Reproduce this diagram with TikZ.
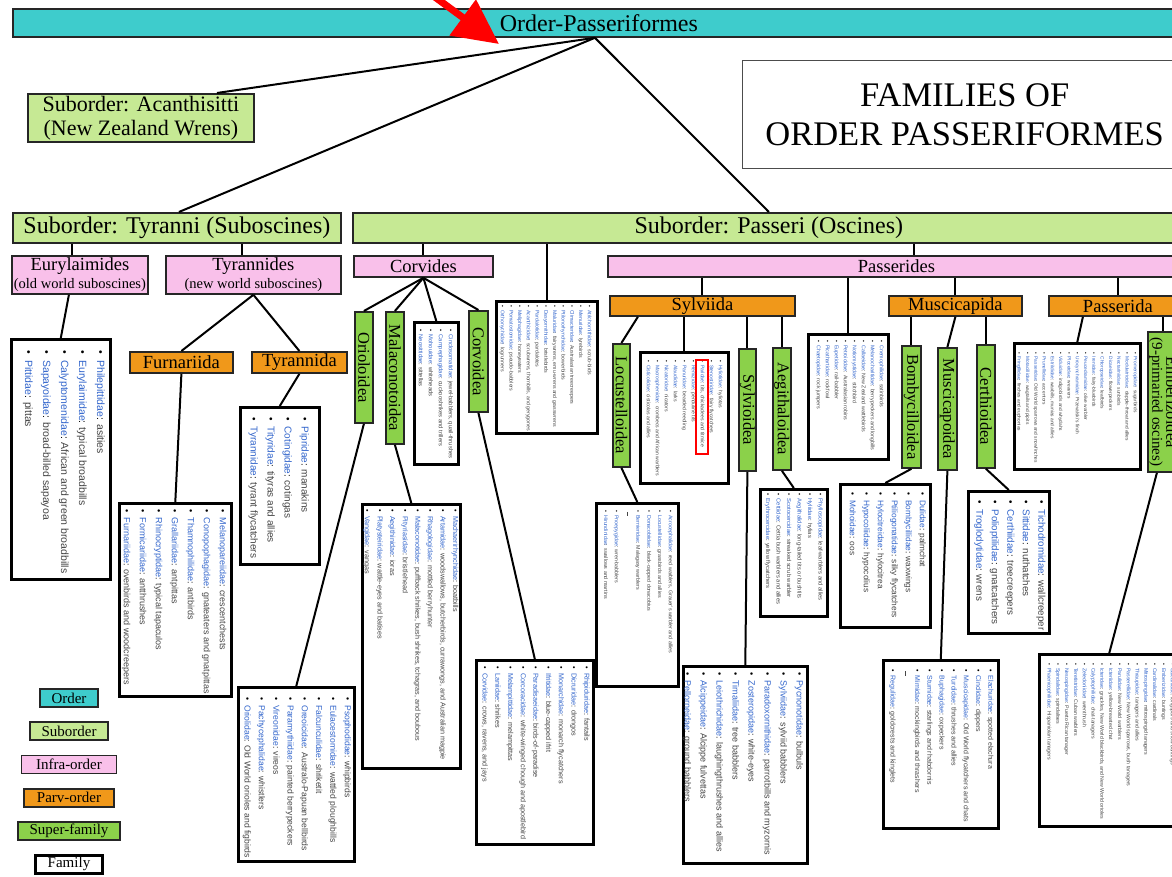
\documentclass[tikz,border=0pt]{standalone}
\usepackage{graphicx}
\usepackage{fontspec}
\setmainfont{Liberation Serif}
\setsansfont{Liberation Sans}
\usepackage{tikz}
\usetikzlibrary{positioning,arrows.meta}
\definecolor{ordcyan}{RGB}{62,204,204}
\definecolor{subgreen}{RGB}{198,233,148}
\definecolor{infpink}{RGB}{249,192,234}
\definecolor{parvorange}{RGB}{240,152,26}
\definecolor{supgreen}{RGB}{139,209,74}
\definecolor{famblue}{RGB}{51,102,204}
\definecolor{famgray}{RGB}{70,70,70}
\newcommand{\fitem}[2]{\hbox{\textbullet\hspace{.6em}\textcolor{famblue}{#1}: \textcolor{famgray}{#2}}}
\newcommand{\fgap}{\hbox{\hspace{.3em}\textcolor{famgray}{\rule[.3em]{.7em}{.3pt}}}}
\newcommand{\flist}[3]{\rotatebox{-90}{\vbox{\fontsize{#1}{#2}\selectfont#3}}}
\newcommand{\vtext}[1]{\rotatebox{-90}{#1}}

\begin{document}
\begin{tikzpicture}[x=1pt,y=-1pt,inner sep=0pt,node distance=13.4pt]
\tikzstyle{ordbox}=[rectangle, draw=black!85, line width=1.8pt, fill=ordcyan, anchor=north west, font=\fontsize{24}{26}\selectfont]
\tikzstyle{subbox}=[rectangle, draw=black!85, line width=1.8pt, fill=subgreen, anchor=north west, align=center, font=\fontsize{24}{24}\selectfont]
\tikzstyle{infbox}=[rectangle, draw=black!85, line width=1.8pt, fill=infpink, anchor=north west, align=center, font=\fontsize{18.5}{18}\selectfont]
\tikzstyle{parvbox}=[rectangle, draw=black!85, line width=1.8pt, fill=parvorange, anchor=north west, font=\fontsize{18.5}{20}\selectfont]
\tikzstyle{supbox}=[rectangle, draw=black!85, line width=1.8pt, fill=supgreen, anchor=north west, font=\fontsize{16.5}{15}\selectfont]
\tikzstyle{fambox}=[rectangle, draw=black, line width=2.6pt, fill=white, anchor=north west]
\tikzstyle{famtext}=[anchor=north east, font=\sffamily]
\tikzstyle{titlebox}=[rectangle, draw=black!70, line width=1.3pt, anchor=north west, align=center, font=\fontsize{34.5}{39}\selectfont]
\tikzstyle{legend}=[anchor=center, minimum height=18, font=\fontsize{15}{15}\selectfont]
\tikzstyle{connect}=[line width=2pt, black]
\useasboundingbox (0,0) rectangle (1172,877);
\node[ordbox, minimum width=1172, minimum height=28] (ordr) at (12,8) {Order-Passeriformes};
\node[subbox, minimum width=226, minimum height=48, font=\fontsize{22}{24}\selectfont] (acan) at (27,93) {Suborder: Acanthisitti\\(New Zealand Wrens)};
\node[titlebox, minimum width=444, minimum height=108] (titl) at (742,60) {FAMILIES OF\\ORDER PASSERIFORMES};
\node[subbox, minimum width=328, minimum height=30] (tyrn) at (12,212) {Suborder: Tyranni (Suboscines)};
\node[subbox, minimum width=832, minimum height=30] (psri) at (352,212) {Suborder: Passeri (Oscines)};
\node[infbox, minimum width=136, minimum height=38] (eury) at (11,255) {Eurylaimides\\{\fontsize{14.5}{15}\selectfont(old world suboscines)}};
\node[infbox, minimum width=175, minimum height=38] (tyrs) at (165,255) {Tyrannides\\{\fontsize{14.5}{15}\selectfont(new world suboscines)}};
\node[infbox, minimum width=139, minimum height=21] (crvd) at (353,255) {Corvides};
\node[infbox, minimum width=577, minimum height=21] (psds) at (607,255) {Passerides};
\node[parvbox, minimum width=103, minimum height=21] (furn) at (129,351) {Furnariida};
\node[parvbox, minimum width=95, minimum height=21] (tyrd) at (251,351) {Tyrannida};
\node[parvbox, minimum width=185, minimum height=20] (sylv) at (609,295) {Sylviida};
\node[parvbox, minimum width=133, minimum height=20] (musc) at (888,295) {Muscicapida};
\node[parvbox, minimum width=138, minimum height=20] (psda) at (1048,295) {Passerida};
\node[supbox, minimum width=18, minimum height=111] (oriol) at (354,311) {\vtext{Orioloidea}};
\node[supbox, minimum width=18, minimum height=132] (malac) at (385,311) {\vtext{Malaconotoidea}};
\node[supbox, minimum width=19, minimum height=101] (corvo) at (468,310) {\vtext{Corvoidea}};
\node[supbox, minimum width=17, minimum height=123] (locus) at (612,343) {\vtext{Locustelloidea}};
\node[supbox, minimum width=17, minimum height=122] (sylvo) at (738,348) {\vtext{Sylvioidea}};
\node[supbox, minimum width=18, minimum height=122] (aegit) at (772,347) {\vtext{Aegithaloidea}};
\node[supbox, minimum width=19, minimum height=122] (bomby) at (901,345) {\vtext{Bombycilloidea}};
\node[supbox, minimum width=19, minimum height=122] (muspo) at (937,347) {\vtext{Muscicapoidea}};
\node[supbox, minimum width=18, minimum height=123] (certh) at (976,344) {\vtext{Certhioidea}};
\node[supbox, minimum width=30, minimum height=140] (ember) at (1147,331) {\vtext{\begin{tabular}{@{}c@{}}Emberizoidea\\[-1pt]{\fontsize{15}{15}\selectfont(9-primaried oscines)}\end{tabular}}};
\node[fambox, minimum width=99, minimum height=240] (fEury) at (10,338) {};
\node[famtext, inner xsep=6.6, inner ysep=12] (tEury) at (fEury.north east) {\flist{10.5}{18}{\fitem{Philepittidae}{asities}
 \fitem{Eurylaimidae}{typical broadbills}
 \fitem{Calyptomenidae}{African and green broadbills}
 \fitem{Sapayoidae}{broad-billed sapayoa}
 \fitem{Pittidae}{pittas}}};
\node[fambox, minimum width=112, minimum height=193] (fFurn) at (118,502) {};
\node[famtext, inner xsep=6, inner ysep=7] (tFurn) at (fFurn.north east) {\flist{9}{16}{\fitem{Melanopareiidae}{crescentchests}
 \fitem{Conopophagidae}{gnateaters and gnatpittas}
 \fitem{Thamnophilidae}{antbirds}
 \fitem{Grallariidae}{antpittas}
 \fitem{Rhinocryptidae}{typical tapaculos}
 \fitem{Formicariidae}{antthrushes}
 \fitem{Furnariidae}{ovenbirds and woodcreepers}}};
\node[fambox, minimum width=79, minimum height=157] (fTyran) at (239,406) {};
\node[famtext, inner xsep=11.5, inner ysep=11] (tTyran) at (fTyran.north east) {\flist{10}{17}{\fitem{Pipridae}{manakins}
 \fitem{Cotingidae}{cotingas}
 \fitem{Tityridae}{tityras and allies}
 \fitem{Tyrannidae}{tyrant flycatchers}}};
\node[fambox, minimum width=116, minimum height=174] (fOriol) at (237,686) {};
\node[famtext, inner xsep=4.4, inner ysep=11] (tOriol) at (fOriol.north east) {\flist{8.6}{14.3}{\fitem{Psophodidae}{whipbirds}
 \fitem{Eulacestomidae}{wattled ploughbills}
 \fitem{Falcunculidae}{shriketit}
 \fitem{Oreoicidae}{Australo-Papuan bellbirds}
 \fitem{Paramythiidae}{painted berrypeckers}
 \fitem{Vireonidae}{vireos}
 \fitem{Pachycephalidae}{whistlers}
 \fitem{Oriolidae}{Old World orioles and figbirds}}};
\node[fambox, minimum width=98, minimum height=264] (fMalac) at (361,503) {};
\node[famtext, inner xsep=3, inner ysep=6] (tMalac) at (fMalac.north east) {\flist{7.2}{12.6}{\fitem{Machaerirhynchidae}{boatbills}
 \fitem{Artamidae}{woodswallows, butcherbirds, currawongs, and Australian magpie}
 \fitem{Rhagologidae}{mottled berryhunter}
 \fitem{Malaconotidae}{puffback shrikes, bush shrikes, tchagras, and boubous}
 \fitem{Pityriasidae}{bristlehead}
 \fitem{Aegithinidae}{ioras}
 \fitem{Platysteiridae}{wattle-eyes and batises}
 \fitem{Vangidae}{vangas}}};
\node[fambox, minimum width=44, minimum height=142] (fCincl) at (413,321) {};
\node[famtext, inner xsep=6.4, inner ysep=8] (tCincl) at (fCincl.north east) {\flist{5.8}{10}{\fitem{Cinclosomatidae}{jewel-babblers, quail-thrushes}
 \fitem{Campephagidae}{cuckooshrikes and trillers}
 \fitem{Mohouidae}{whiteheads}
 \fitem{Neosittidae}{sittellas}}};
\node[fambox, minimum width=117, minimum height=184] (fCorv) at (475,659) {};
\node[famtext, inner xsep=4.9, inner ysep=7] (tCorv) at (fCorv.north east) {\flist{7.2}{12.7}{\fitem{Rhipiduridae}{fantails}
 \fitem{Dicruridae}{drongos}
 \fitem{Monarchidae}{monarch flycatchers}
 \fitem{Ifritidae}{blue-capped ifrit}
 \fitem{Paradisaeidae}{birds-of-paradise}
 \fitem{Corcoracidae}{white-winged chough and apostlebird}
 \fitem{Melampittidae}{melampittas}
 \fitem{Laniidae}{shrikes}
 \fitem{Corvidae}{crows, ravens, and jays}}};
\node[fambox, minimum width=101, minimum height=132] (fMenur) at (495,300) {};
\node[famtext, inner xsep=6.8, inner ysep=5] (tMenur) at (fMenur.north east) {\flist{5.2}{8.7}{\fitem{Atrichornithidae}{scrub-birds}
 \fitem{Menuridae}{lyrebirds}
 \fitem{Climacteridae}{Australasian treecreepers}
 \fitem{Ptilonorhynchidae}{bowerbirds}
 \fitem{Maluridae}{fairywrens, emu-wrens and grasswrens}
 \fitem{Dasyornithidae}{bristlebirds}
 \fitem{Pardalotidae}{pardalotes}
 \fitem{Acanthizidae}{scrubwrens, thornbills, and gerygones}
 \fitem{Meliphagidae}{honeyeaters}
 \fitem{Pomatostomidae}{pseudo-babblers}
 \fitem{Orthonychidae}{logrunners}}};
\node[fambox, minimum width=88, minimum height=131] (fSylvi) at (639,351) {};
\node[famtext, inner xsep=6.9, inner ysep=9] (tSylvi) at (fSylvi.north east) {\flist{5.1}{9}{\fitem{Hyliotidae}{hyliotas}
 \fitem{Stenostiridae}{fairy flycatchers}
 \fitem{Paridae}{tits, chickadees and titmice}
 \fitem{Remizidae}{penduline tits}
 \fitem{Panuridae}{bearded reedling}
 \fitem{Alaudidae}{larks}
 \fitem{Nicatoridae}{nicators}
 \fitem{Macrosphenidae}{crombecs and African warblers}
 \fitem{Cisticolidae}{cisticolas and allies}}};
\node[draw=red, line width=1.6pt, minimum width=12, minimum height=94, anchor=north west] (hlParid) at (695,359) {};
\node[fambox, minimum width=82, minimum height=183] (fLocus) at (595,502) {};
\node[famtext, inner xsep=6.7, inner ysep=8] (tLocus) at (fLocus.north east) {\flist{5.3}{10.8}{\fitem{Acrocephalidae}{reed warblers, Grauer's warbler and allies}
 \fitem{Locustellidae}{grassbirds and allies}
 \fitem{Donacobiidae}{black-capped donacobius}
 \fitem{Bernieridae}{Malagasy warblers}
 \fgap
 \fitem{Pnoepygidae}{wren-babblers}
 \fitem{Hirundinidae}{swallows and martins}}};
\node[fambox, minimum width=67, minimum height=127] (fAegi) at (759,488) {};
\node[famtext, inner xsep=5.6, inner ysep=5] (tAegi) at (fAegi.north east) {\flist{5.8}{10.5}{\fitem{Phylloscopidae}{leaf-warblers and allies}
 \fitem{Hyliidae}{hylias}
 \fitem{Aegithalidae}{long-tailed tits or bushtits}
 \fitem{Scotocercidae}{streaked scrub warbler}
 \fitem{Cettiidae}{Cettia bush warblers and allies}
 \fitem{Erythrocercidae}{yellow flycatchers}}};
\node[fambox, minimum width=124, minimum height=197] (fSylvo) at (682,665) {};
\node[famtext, inner xsep=5.2, inner ysep=7] (tSylvo) at (fSylvo.north east) {\flist{9}{16}{\fitem{Pycnonotidae}{bulbuls}
 \fitem{Sylviidae}{sylviid babblers}
 \fitem{Paradoxornithidae}{parrotbills and myzornis}
 \fitem{Zosteropidae}{white-eyes}
 \fitem{Timaliidae}{tree babblers}
 \fitem{Leiothrichidae}{laughingthrushes and allies}
 \fitem{Alcippeidae}{Alcippe fulvettas}
 \fitem{Pellorneidae}{ground babblers}}};
\node[fambox, minimum width=80, minimum height=125] (fPassd) at (807,333) {};
\node[famtext, inner xsep=5.8, inner ysep=7] (tPassd) at (fPassd.north east) {\flist{5.3}{9}{\fitem{Cnemophilidae}{satinbirds}
 \fitem{Melanocharitidae}{berrypeckers and longbills}
 \fitem{Callaeidae}{New Zealand wattlebirds}
 \fitem{Notiomystidae}{stitchbird}
 \fitem{Petroicidae}{Australasian robins}
 \fitem{Eupetidae}{rail-babbler}
 \fitem{Picathartidae}{rockfowl}
 \fitem{Chaetopidae}{rock jumpers}}};
\node[fambox, minimum width=90, minimum height=143] (fBomby) at (839,483) {};
\node[famtext, inner xsep=5.5, inner ysep=9] (tBomby) at (fBomby.north east) {\flist{8.3}{14}{\fitem{Dulidae}{palmchat}
 \fitem{Bombycillidae}{waxwings}
 \fitem{Ptiliogonatidae}{silky flycatchers}
 \fitem{Hylocitreidae}{hylocitrea}
 \fitem{Hypocoliidae}{hypocolius}
 \fitem{Mohoidae}{oos}}};
\node[fambox, minimum width=115, minimum height=168] (fMusci) at (882,659) {};
\node[famtext, inner xsep=6, inner ysep=10] (tMusci) at (fMusci.north east) {\flist{7}{12.2}{\fitem{Elachuridae}{spotted elachura}
 \fitem{Cinclidae}{dippers}
 \fitem{Muscicapidae}{Old World flycatchers and chats}
 \fitem{Turdidae}{thrushes and allies}
 \fitem{Buphagidae}{oxpeckers}
 \fitem{Sturnidae}{starlings and rhabdornis}
 \fitem{Mimidae}{mockingbirds and thrashers}
 \fgap
 \fitem{Regulidae}{goldcrests and kinglets}}};
\node[fambox, minimum width=81, minimum height=142] (fCerth) at (967,490) {};
\node[famtext, inner xsep=4.9, inner ysep=10] (tCerth) at (fCerth.north east) {\flist{9.8}{15.5}{\fitem{Tichodromidae}{wallcreeper}
 \fitem{Sittidae}{nuthatches}
 \fitem{Certhiidae}{treecreepers}
 \fitem{Polioptilidae}{gnatcatchers}
 \fitem{Troglodytidae}{wrens}}};
\node[fambox, minimum width=126, minimum height=126] (fPassa) at (1013,342) {};
\node[famtext, inner xsep=4, inner ysep=10] (tPassa) at (fPassa.north east) {\flist{4.8}{8.3}{\fitem{Promeropidae}{sugarbirds}
 \fitem{Modulatricidae}{dapple-throat and allies}
 \fitem{Nectariniidae}{sunbirds}
 \fitem{Dicaeidae}{flowerpeckers}
 \fitem{Chloropseidae}{leafbirds}
 \fitem{Irenidae}{fairy-bluebirds}
 \fitem{Peucedramidae}{olive warbler}
 \fitem{Urocynchramidae}{Przevalski's finch}
 \fitem{Ploceidae}{weavers}
 \fitem{Viduidae}{indigobirds and whydahs}
 \fitem{Estrildidae}{waxbills, munias and allies}
 \fitem{Prunellidae}{accentors}
 \fitem{Passeridae}{Old World sparrows and snowfinches}
 \fitem{Motacillidae}{wagtails and pipits}
 \fitem{Fringillidae}{finches and euphonias}}};
\node[fambox, minimum width=140, minimum height=172] (fEmber) at (1038,653) {};
\node[famtext, inner xsep=5.8, inner ysep=10] (tEmber) at (fEmber.north east) {\flist{5.2}{8.8}{\fitem{Calcariidae}{longspurs and snow buntings}
 \fitem{Emberizidae}{buntings}
 \fitem{Cardinalidae}{cardinals}
 \fitem{Mitrospingidae}{mitrospingid tanagers}
 \fitem{Thraupidae}{tanagers and allies}
 \fitem{Passerellidae}{New World sparrows, bush tanagers}
 \fitem{Parulidae}{New World warblers}
 \fitem{Icteriidae}{yellow-breasted chat}
 \fitem{Icteridae}{grackles, New World blackbirds, and New World orioles}
 \fitem{Calyptophilidae}{chat-tanagers}
 \fitem{Zeledoniidae}{wrenthrush}
 \fitem{Teretistridae}{Cuban warblers}
 \fitem{Nesospingidae}{Puerto Rican tanager}
 \fitem{Spindalidae}{spindalises}
 \fitem{Phaenicophilidae}{Hispaniolan tanagers}}};
\node[ordbox, legend, minimum width=58] (lgOrd) at (69,698) {Order};
\node[subbox, legend, minimum width=78] (lgSub) [below=of lgOrd] {Suborder};
\node[infbox, legend, minimum width=95] (lgInf) [below=of lgSub] {Infra-order};
\node[parvbox, legend, minimum width=90] (lgParv) [below=of lgInf] {Parv-order};
\node[supbox, legend, minimum width=102] (lgSup) [below=of lgParv] {Super-family};
\node[fambox, legend, minimum width=67] (lgFam) [below=of lgSup] {Family};
\path ([xshift=-4]ordr.south) edge[connect] ([xshift=76]acan.north) edge[connect] ([xshift=2]tyrn.north) edge[connect] (psri.north);
\path ([xshift=-8]eury.north) edge[connect] ([xshift=-8]eury.north |- tyrn.south);
\path ([xshift=-11.5]tyrs.north) edge[connect] ([xshift=-11.5]tyrs.north |- tyrn.south);
\path (crvd.north) edge[connect] (crvd.north |- psri.south);
\path (fMenur.north) edge[connect] (fMenur.north |- psri.south);
\path ([xshift=17.5]psds.north) edge[connect] ([xshift=17.5]psds.north |- psri.south);
\path ([xshift=-11]eury.south) edge[connect] (fEury.north);
\path (tyrs.south) edge[connect] (furn.north) edge[connect] (tyrd.north);
\path (furn.south) edge[connect] (fFurn.north);
\path (tyrd.south) edge[connect] (fTyran.north);
\path (crvd.south) edge[connect] (oriol.north) edge[connect] (malac.north) edge[connect] (fCincl.north) edge[connect] (corvo.north);
\path (oriol.south) edge[connect] (fOriol.north);
\path (malac.south) edge[connect] (fMalac.north);
\path (corvo.south) edge[connect] (fCorv.north);
\path (sylv.north) edge[connect] (sylv.north |- psds.south);
\path (fPassd.north) edge[connect] (fPassd.north |- psds.south);
\path (musc.north) edge[connect] (musc.north |- psds.south);
\path (psda.north) edge[connect] (psda.north |- psds.south);
\path ([xshift=-64.5]sylv.south) edge[connect] (locus.north);
\path (fSylvi.north) edge[connect] (fSylvi.north |- sylv.south);
\path (sylvo.north) edge[connect] (sylvo.north |- sylv.south);
\path (aegit.north) edge[connect] (aegit.north |- sylv.south);
\path (locus.south) edge[connect] (fLocus.north);
\path (sylvo.south) edge[connect] (fSylvo.north);
\path (aegit.south) edge[connect] (fAegi.north);
\path (bomby.north) edge[connect] (bomby.north |- musc.south);
\path (musc.south) edge[connect] (muspo.north);
\path (certh.north) edge[connect] (certh.north |- musc.south);
\path (bomby.south) edge[connect] (fBomby.north);
\path (muspo.south) edge[connect] (fMusci.north);
\path (certh.south) edge[connect] (fCerth.north);
\path ([xshift=-35]psda.south) edge[connect] (fPassa.north);
\path (ember.north) edge[connect] (ember.north |- psda.south);
\path ([xshift=-6]ember.south) edge[connect] (fEmber.north);
\coordinate (arrowTail) at (402,-27);
\coordinate (arrowTip) at (499,44);
\draw[red, line width=7pt, -{Triangle[length=45pt,width=43pt]}] (arrowTail) -- (arrowTip);
\end{tikzpicture}
\end{document}
